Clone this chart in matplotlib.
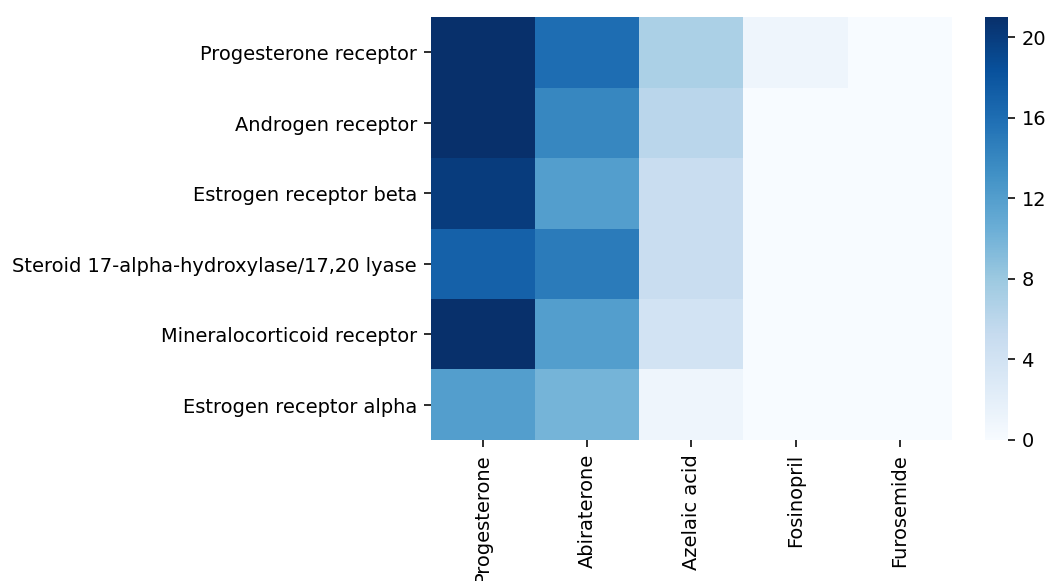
import matplotlib
matplotlib.use("Agg")
import matplotlib.pyplot as plt
import matplotlib.transforms as mtransforms
import numpy as np
import seaborn as sns

targets = ["Progesterone receptor", "Androgen receptor", "Estrogen receptor beta",
           "Steroid 17-alpha-hydroxylase/17,20 lyase", "Mineralocorticoid receptor",
           "Estrogen receptor alpha"]
drugs = ["Progesterone", "Abiraterone", "Azelaic acid", "Fosinopril", "Furosemide"]

# counts per target (rows) and drug (columns)
progesterone = [21, 21, 20, 17, 21, 12]
abiraterone = [16, 14, 12, 15, 12, 10]
azelaic_acid = [7, 6, 5, 5, 4, 1]
fosinopril = [1, 0, 0, 0, 0, 0]
furosemide = [0, 0, 0, 0, 0, 0]

scores = np.array([progesterone, abiraterone, azelaic_acid, fosinopril, furosemide]).T

plt.rcParams["font.size"] = 9.7

fig = plt.figure(figsize=(1046 / 144, 581 / 144), dpi=144)
ax = fig.add_axes([0.412, 0.2427, 0.498, 0.728])
cax = fig.add_axes([0.9417, 0.2427, 0.022, 0.728])

sns.heatmap(scores, cmap="Blues", vmin=0, vmax=21, ax=ax, cbar_ax=cax,
            xticklabels=drugs, yticklabels=targets)
ax.tick_params(axis="y", rotation=0, labelsize=9.7)
ax.tick_params(axis="x", rotation=90, labelsize=9.7)
cax.set_yticks([0, 4, 8, 12, 16, 20])
cax.tick_params(labelsize=9.7)

# nudge the row labels down a little
shift = mtransforms.ScaledTranslation(0, -2.5 / 144, fig.dpi_scale_trans)
for lbl in ax.get_yticklabels():
    lbl.set_transform(lbl.get_transform() + shift)

fig.savefig("out.png", dpi=144)
